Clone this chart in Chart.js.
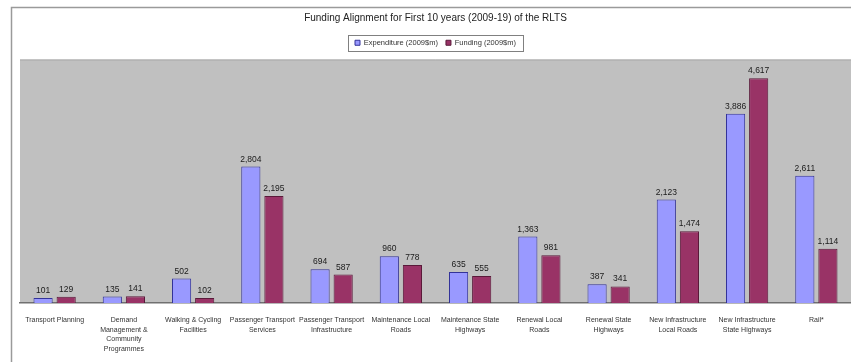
<!DOCTYPE html>
<html>
<head>
<meta charset="utf-8">
<script src="https://cdn.jsdelivr.net/npm/chart.js@4"></script>
<style>
  html, body { margin: 0; padding: 0; background: #fff; }
  #wrap { width: 851px; height: 362px; }
</style>
</head>
<body>
<div id="wrap"><canvas id="rlts" width="851" height="362"></canvas></div>
<script>
// Catégories (libellés sur plusieurs lignes)
const categories = [
  ['Transport Planning'],
  ['Demand', 'Management &', 'Community', 'Programmes'],
  ['Walking & Cycling', 'Facilities'],
  ['Passenger Transport', 'Services'],
  ['Passenger Transport', 'Infrastructure'],
  ['Maintenance Local', 'Roads'],
  ['Maintenance State', 'Highways'],
  ['Renewal Local', 'Roads'],
  ['Renewal State', 'Highways'],
  ['New Infrastructure', 'Local Roads'],
  ['New Infrastructure', 'State Highways'],
  ['Rail*']
];
// Valeurs en millions de $ 2009
const expenditure = [101, 135, 502, 2804, 694, 960, 635, 1363, 387, 2123, 3886, 2611];
const funding = [129, 141, 102, 2195, 587, 778, 555, 981, 341, 1474, 4617, 1114];

const seriesNames = ['Expenditure (2009$m)', 'Funding (2009$m)'];
const titleText = 'Funding Alignment for First 10 years (2009-19) of the RLTS';

const FONT = "'Liberation Sans', Arial, sans-serif";

// Cadre, fond gris, boîte de légende et valeurs au-dessus des barres
const decor = {
  id: 'decor',
  beforeDraw(chart) {
    const { ctx, chartArea } = chart;
    ctx.save();
    ctx.fillStyle = '#c0c0c0';
    ctx.fillRect(chartArea.left, chartArea.top, chart.width - chartArea.left, chartArea.bottom - chartArea.top);
    ctx.strokeStyle = '#a8a8a8';
    ctx.lineWidth = 1;
    ctx.beginPath();
    ctx.moveTo(chartArea.left, chartArea.top + 0.5);
    ctx.lineTo(chart.width, chartArea.top + 0.5);
    ctx.stroke();
    // cadre extérieur
    ctx.strokeStyle = '#9a9a9a';
    ctx.lineWidth = 1.5;
    ctx.beginPath();
    ctx.moveTo(11.5, chart.height);
    ctx.lineTo(11.5, 7.5);
    ctx.lineTo(chart.width, 7.5);
    ctx.stroke();
    ctx.restore();
  },
  afterDraw(chart) {
    const { ctx } = chart;
    ctx.save();
    // boîte autour de la légende
    const boxes = chart.legend.legendHitBoxes;
    if (boxes && boxes.length) {
      const l = Math.min(...boxes.map(b => b.left)) - 7;
      const r = Math.max(...boxes.map(b => b.left + b.width)) + 7;
      const t = Math.min(...boxes.map(b => b.top)) - 4;
      const btm = Math.max(...boxes.map(b => b.top + b.height)) + 4;
      ctx.strokeStyle = '#808080';
      ctx.lineWidth = 1;
      ctx.strokeRect(Math.round(l) + 0.5, Math.round(t) + 0.5, Math.round(r - l), Math.round(btm - t));
    }
    // valeurs
    ctx.font = '8.5px ' + FONT;
    ctx.fillStyle = '#1a1a1a';
    ctx.textAlign = 'center';
    ctx.textBaseline = 'bottom';
    chart.data.datasets.forEach((ds, i) => {
      chart.getDatasetMeta(i).data.forEach((bar, j) => {
        ctx.fillText(ds.data[j].toLocaleString('en-US'), bar.x, bar.y - 3);
      });
    });
    ctx.restore();
  }
};

new Chart(document.getElementById('rlts').getContext('2d'), {
  type: 'bar',
  data: {
    labels: categories,
    datasets: [{
      label: seriesNames[0],
      data: expenditure,
      backgroundColor: '#9999ff',
      borderColor: '#333399',
      borderWidth: 1,
      categoryPercentage: 0.667,
      barPercentage: 0.83
    }, {
      label: seriesNames[1],
      data: funding,
      backgroundColor: '#993366',
      borderColor: '#5a1a3a',
      borderWidth: 1,
      categoryPercentage: 0.667,
      barPercentage: 0.83
    }]
  },
  options: {
    responsive: false,
    animation: false,
    layout: { padding: { left: 20, right: 0, top: 12, bottom: 0 } },
    plugins: {
      title: {
        display: true,
        text: titleText,
        color: '#222',
        font: { family: FONT, size: 10, weight: 'normal' },
        padding: { top: 0, bottom: 7 }
      },
      // petit espace vide entre la légende et la zone de tracé
      subtitle: {
        display: true,
        text: '',
        weight: 500,
        font: { size: 3, lineHeight: 1 },
        padding: 0
      },
      legend: {
        display: true,
        labels: {
          color: '#333',
          font: { family: FONT, size: 7.5 },
          boxWidth: 5,
          boxHeight: 5,
          padding: 8
        }
      },
      tooltip: { enabled: false }
    },
    scales: {
      x: {
        grid: { display: false },
        border: { display: true, color: '#707070', width: 1.5 },
        ticks: {
          color: '#333',
          font: { family: FONT, size: 7, lineHeight: 1.4 },
          maxRotation: 0,
          autoSkip: false,
          padding: 4
        },
        afterFit(scale) { scale.height = 59; }
      },
      y: {
        display: false,
        min: 0,
        max: 5000
      }
    }
  },
  plugins: [decor]
});
</script>
</body>
</html>
